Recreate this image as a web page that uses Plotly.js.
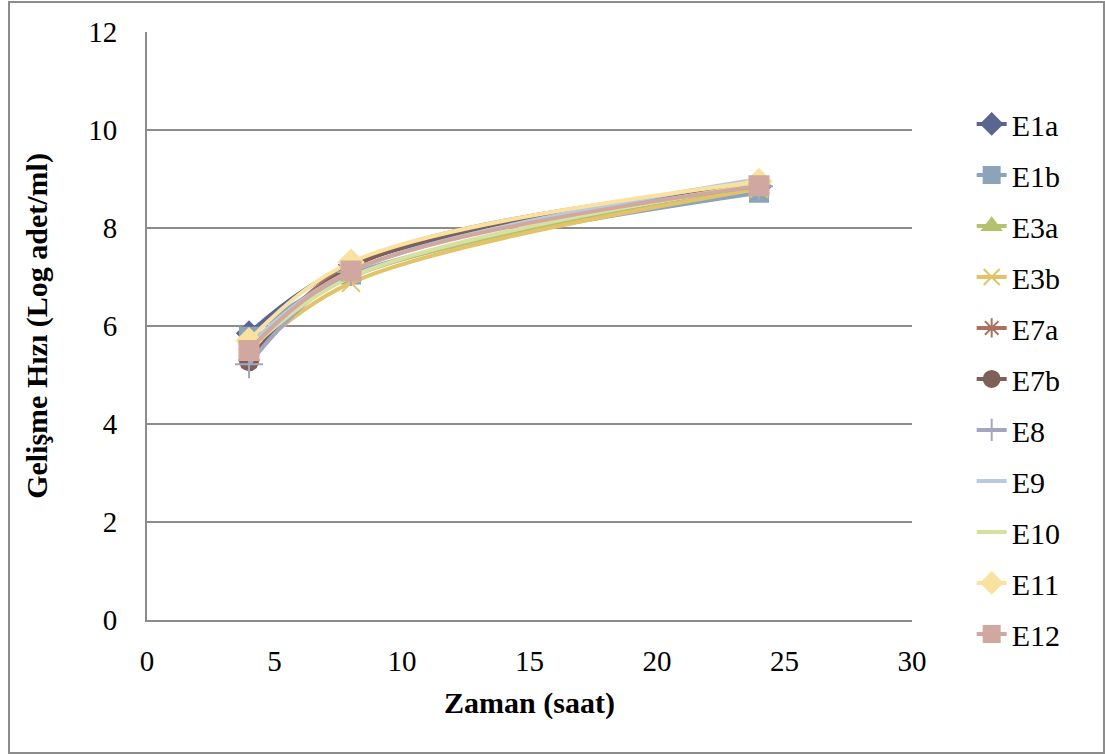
<!DOCTYPE html>
<html>
<head>
<meta charset="utf-8">
<script src="https://cdn.plot.ly/plotly-3.0.1.min.js"></script>
<style>
html,body{margin:0;padding:0;background:#fff;}
#frame{position:absolute;left:8px;top:1px;width:1093px;height:749px;border:2px solid #8c8c8c;}
#chart{position:absolute;left:0;top:0;width:1105px;height:754px;}
</style>
</head>
<body>
<div id="frame"></div>
<div id="chart"></div>
<script>
const hours = [4, 8, 24];
const seriesNames = ["E1a","E1b","E3a","E3b","E7a","E7b","E8","E9","E10","E11","E12"];
const E1a = [5.85, 7.25, 8.85];
const E1b = [5.78, 7.05, 8.72];
const E3a = [5.6, 7.0, 8.8];
const E3b = [5.4, 6.88, 8.8];
const E7a = [5.3, 7.25, 8.9];
const E7b = [5.28, 7.2, 8.88];
const E8  = [5.22, 7.1, 8.85];
const E9  = [5.6, 7.12, 9.0];
const E10 = [5.5, 7.0, 8.9];
const E11 = [5.7, 7.3, 8.95];
const E12 = [5.5, 7.12, 8.86];
const values = [E1a,E1b,E3a,E3b,E7a,E7b,E8,E9,E10,E11,E12];
const colors = ["#5b6591","#8ca4b9","#b6c16e","#e2c36a","#a9725f","#7d6058","#a3a6c0","#b9cadd","#d7e0a0","#f9e1a0","#d1a89f"];
const symbols = ["diamond","square","triangle-up","x-thin-open","asterisk-open","circle","cross-thin-open",null,null,"diamond","square"];
const sizes = [18,18,17,18,18,18,20,0,0,19,19];

const traces = seriesNames.map((n,i)=>{
  const t = {
    x: hours, y: values[i], name: n, type: 'scatter', legendgroup: n,
    mode: symbols[i] ? 'lines+markers' : 'lines',
    line: {color: colors[i], width: 4, shape: 'spline', smoothing: 1},
  };
  if (symbols[i]) t.marker = {symbol: symbols[i], size: sizes[i], color: colors[i], line: {color: colors[i], width: 2}};
  return t;
});

const layout = {
  width: 1105, height: 754,
  paper_bgcolor: 'rgba(0,0,0,0)', plot_bgcolor: 'rgba(0,0,0,0)',
  margin: {l: 147, r: 193, t: 32, b: 134},
  font: {family: '"Liberation Serif", "Times New Roman", serif', size: 29, color: '#000'},
  showlegend: true,
  legend: {x: 1.078, xanchor: 'left', y: 0.41, yanchor: 'middle', xref: 'paper',
    font: {size: 30}, tracegroupgap: 9, bgcolor: 'rgba(0,0,0,0)'},
  xaxis: {range: [0, 30], dtick: 5, showgrid: false, zeroline: false,
    showline: true, linecolor: '#8c8c8c', linewidth: 2, ticks: 'outside', ticklen: 14, tickcolor: 'rgba(0,0,0,0)',
    title: {text: '<b>Zaman (saat)</b>', font: {size: 30}, standoff: 16}},
  yaxis: {range: [0, 12], dtick: 2, showgrid: true, gridcolor: '#8c8c8c', gridwidth: 1.5,
    zeroline: false, showline: true, linecolor: '#8c8c8c', linewidth: 2, ticks: 'outside', ticklen: 22, tickcolor: 'rgba(0,0,0,0)',
    title: {text: '<b>Gelişme Hızı (Log adet/ml)</b>', font: {size: 30}, standoff: 32}}
};
Plotly.newPlot('chart', traces, layout, {displayModeBar: false, staticPlot: true});
</script>
</body>
</html>
